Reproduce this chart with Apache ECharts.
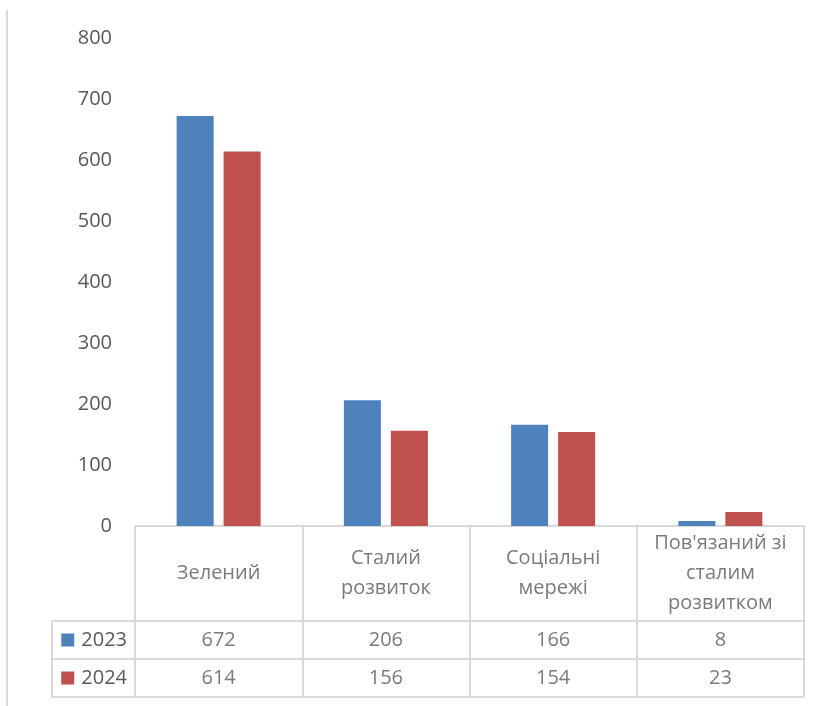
<!DOCTYPE html>
<html>
<head>
<meta charset="utf-8">
<script src="https://cdn.jsdelivr.net/npm/echarts@6/dist/echarts.min.js"></script>
<style>
  html, body { margin: 0; padding: 0; background: #fff; }
  #chart { width: 825px; height: 706px; }
</style>
</head>
<body>
<div id="chart"></div>
<script>
// Categories (with line breaks as shown in the table header)
const categories = ['Зелений', 'Сталий\nрозвиток', 'Соціальні\nмережі', 'Пов\'язаний зі\nсталим\nрозвитком'];
const years = ['2023', '2024'];
const values2023 = [672, 206, 166, 8];
const values2024 = [614, 156, 154, 23];
const yTicks = { min: 0, max: 800, step: 100 };

const seriesColors = ['#4F81BD', '#C0504D'];
const textColor = '#595959';
const lineColor = '#d9d9d9';
const fontFamily = '"Open Sans", "Noto Sans", sans-serif';
const fontSize = 20;

const chart = echarts.init(document.getElementById('chart'), null, { renderer: 'canvas' });

const seriesValues = [values2023, values2024];

// Label points for the data table: header row and two value rows
const headerPoints = categories.map(c => [c, 'h']);
const tablePoints = [];
years.forEach((y, yi) => {
  categories.forEach((c, ci) => tablePoints.push([c, y, seriesValues[yi][ci]]));
});

const hiddenMarker = { color: 'rgba(0,0,0,0)' };
const cellLabel = {
  show: true,
  position: 'inside',
  color: textColor,
  fontFamily: fontFamily,
  fontSize: fontSize,
  lineHeight: 30,
  align: 'center',
  verticalAlign: 'middle'
};

const option = {
  animation: false,
  backgroundColor: '#fff',
  textStyle: { fontFamily: fontFamily },
  grid: [
    { left: 135, right: 21, top: 38, height: 488 },   // bars
    { left: 135, right: 21, top: 526, height: 95 },   // table header
    { left: 135, right: 21, top: 621, height: 76 }    // table values
  ],
  xAxis: [
    {
      gridIndex: 0, type: 'category', data: categories,
      axisLine: { show: false }, axisTick: { show: false }, axisLabel: { show: false }
    },
    {
      gridIndex: 1, type: 'category', data: categories,
      axisLine: { show: false }, axisTick: { show: false }, axisLabel: { show: false },
      splitLine: { show: true, lineStyle: { color: lineColor, width: 2 } }
    },
    {
      gridIndex: 2, type: 'category', data: categories,
      axisLine: { show: false }, axisTick: { show: false }, axisLabel: { show: false },
      splitLine: { show: true, lineStyle: { color: lineColor, width: 2 } }
    }
  ],
  yAxis: [
    {
      gridIndex: 0, type: 'value',
      min: yTicks.min, max: yTicks.max, interval: yTicks.step,
      axisLine: { show: false }, axisTick: { show: false }, splitLine: { show: false },
      axisLabel: { color: textColor, fontSize: fontSize, fontFamily: fontFamily, margin: 23 }
    },
    {
      gridIndex: 1, type: 'category', data: ['h'],
      axisLine: { show: false }, axisTick: { show: false }, axisLabel: { show: false },
      splitLine: { show: true, lineStyle: { color: lineColor, width: 2 } }
    },
    {
      gridIndex: 2, type: 'category', data: years, inverse: true,
      axisLine: { show: false },
      axisTick: { show: true, length: 83, lineStyle: { color: lineColor, width: 2 } },
      splitLine: { show: true, lineStyle: { color: lineColor, width: 2 } },
      axisLabel: {
        margin: 8,
        formatter: (v, i) => '{s' + i + '|}{t|' + v + '}',
        rich: {
          s0: { width: 13, height: 13, backgroundColor: seriesColors[0] },
          s1: { width: 13, height: 13, backgroundColor: seriesColors[1] },
          t: { color: textColor, fontSize: fontSize, fontFamily: fontFamily, padding: [0, 0, 0, 7] }
        }
      }
    },
    {
      // left border of the legend column
      gridIndex: 2, type: 'category', data: years, inverse: true, position: 'left', offset: 83,
      axisLine: { show: true, lineStyle: { color: lineColor, width: 2 } },
      axisTick: { show: false }, axisLabel: { show: false }, splitLine: { show: false }
    }
  ],
  series: [
    {
      name: years[0], type: 'bar', xAxisIndex: 0, yAxisIndex: 0,
      data: values2023, barWidth: 37, barGap: '27%',
      itemStyle: { color: seriesColors[0] }
    },
    {
      name: years[1], type: 'bar', xAxisIndex: 0, yAxisIndex: 0,
      data: values2024, barWidth: 37, barGap: '27%',
      itemStyle: { color: seriesColors[1] }
    },
    {
      type: 'scatter', xAxisIndex: 1, yAxisIndex: 1,
      data: headerPoints, symbolSize: 1, itemStyle: hiddenMarker,
      label: Object.assign({}, cellLabel, { formatter: p => p.value[0] })
    },
    {
      type: 'scatter', xAxisIndex: 2, yAxisIndex: 2,
      data: tablePoints, symbolSize: 1, itemStyle: hiddenMarker,
      label: Object.assign({}, cellLabel, { formatter: p => String(p.value[2]) })
    }
  ],
  graphic: [
    {
      // chart frame edge on the left
      type: 'line', silent: true,
      shape: { x1: 7, y1: 10, x2: 7, y2: 706 },
      style: { stroke: lineColor, lineWidth: 2 }
    }
  ]
};

chart.setOption(option);
</script>
</body>
</html>
